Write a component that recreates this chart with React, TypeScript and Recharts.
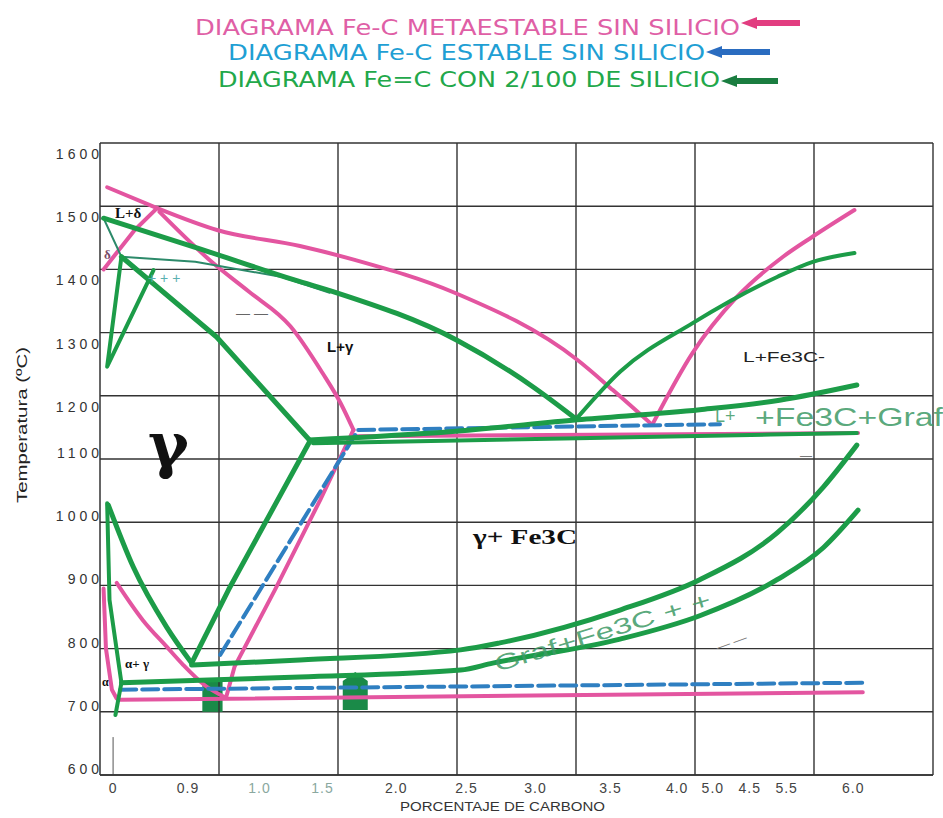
import React from 'react'
import {
  LineChart,
  Line,
  XAxis,
  YAxis,
  CartesianGrid,
  ReferenceLine,
  ReferenceArea,
} from 'recharts'

// x is measured in grid cells (the scan's carbon scale is not linear), t in ºC
const X_TICKS = [0.11, 0.74, 1.34, 1.87, 2.49, 3.08, 3.66, 4.29, 4.85, 5.15, 5.46, 5.77, 6.33]
const X_LABELS = ['0', '0.9', '1.0', '1.5', '2.0', '2.5', '3.0', '3.5', '4.0', '5.0', '4.5', '5.5', '6.0']
const Y_TICKS = [600, 700, 800, 900, 1000, 1100, 1200, 1300, 1400, 1500, 1600]
const GRID_X = [1, 2, 3, 4, 5, 6, 7]

// metaestable sin silicio (rosa)
const metaDeltaTop = [[0.06, 1530], [0.48, 1497]]
const metaDeltaLow = [[0.03, 1400], [0.29, 1462], [0.48, 1497]]
const metaLiquidusLeft = [[0.48, 1497], [0.99, 1462], [1.68, 1437], [2.14, 1415], [2.98, 1363], [4.01, 1257], [4.31, 1209], [4.64, 1154]]
const metaLiquidusRight = [[4.64, 1154], [4.98, 1268], [5.35, 1356], [5.74, 1420], [5.99, 1452], [6.34, 1494]]
const metaSolidus = [[0.5, 1491], [0.95, 1410], [1.25, 1365], [1.6, 1310], [1.87, 1236], [2.02, 1189], [2.13, 1146]]
const metaAcm = [[1.06, 723], [1.13, 771], [1.47, 893], [1.85, 1035], [2.13, 1146]]
const metaA3 = [[0.14, 904], [0.36, 845], [0.56, 803], [0.7, 774], [0.88, 742], [1.05, 723]]
const metaAlpha = [[0.03, 895], [0.05, 800], [0.1, 735], [0.14, 721]]
const metaEutectoid = [[0.17, 719], [6.41, 731]]
const metaEutectic = [[2.13, 1136], [6.37, 1141]]

// estable sin silicio (azul, discontinua)
const stableEutectoid = [[0.17, 735], [6.41, 746]]
const stableAcm = [[1.01, 790], [2.17, 1146]]
const stableEutectic = [[2.17, 1146], [5.21, 1155]]

// con 2/100 de silicio (verde)
const siLiquidusLeft = [[0.03, 1481], [0.8, 1435], [1.64, 1383], [1.99, 1363], [3.0, 1288], [3.64, 1214], [3.99, 1165]]
const siLiquidusRight = [[4.01, 1165], [4.37, 1238], [4.98, 1315], [5.69, 1388], [5.99, 1412], [6.34, 1426]]
const siSolidus = [[0.18, 1420], [0.98, 1293], [1.76, 1130]]
const siDeltaThin = [[0.03, 1481], [0.18, 1420], [0.8, 1412], [1.53, 1388], [1.93, 1363]]
const siDeltaLoop = [[0.18, 1420], [0.06, 1246], [0.45, 1399]]
const siEutecticUpper = [[1.76, 1130], [2.94, 1143], [4.01, 1162], [5.04, 1178], [5.71, 1193], [6.36, 1217]]
const siEutecticLower = [[1.79, 1125], [4.01, 1133], [6.36, 1141]]
const siAcm = [[0.77, 777], [1.08, 893], [1.76, 1127]]
const siA3 = [[0.07, 1027], [0.28, 929], [0.56, 834], [0.77, 777]]
const siLeft = [[0.06, 1030], [0.08, 877], [0.18, 746], [0.13, 695]]
const siEutectoidUpper = [[0.77, 774], [1.68, 782], [3.03, 798], [3.36, 809], [4.37, 861], [5.04, 909], [5.69, 983], [6.08, 1056], [6.36, 1122]]
const siEutectoidLower = [[0.18, 746], [1.68, 755], [3.03, 766], [3.3, 777], [4.37, 815], [5.04, 852], [5.69, 909], [6.08, 960], [6.37, 1019]]

const graphiteMarks = [
  { x1: 0.86, x2: 1.03, y1: 700, y2: 750 },
  { x1: 2.04, x2: 2.25, y1: 703, y2: 763 },
]

const PINK = '#e355a0'
const BLUE = '#2f7fc1'
const GREEN = '#1c9c48'
const TEAL = '#2c8a6a'

const pts = (a: number[][]) => a.map(([x, t]) => ({ x, t }))

type S = { d: number[][]; c: string; w: number; dash?: string; curve?: 'linear' | 'monotone' }

const series: S[] = [
  { d: metaDeltaTop, c: PINK, w: 4, curve: 'linear' },
  { d: metaDeltaLow, c: PINK, w: 4, curve: 'linear' },
  { d: metaLiquidusLeft, c: PINK, w: 4 },
  { d: metaLiquidusRight, c: PINK, w: 4 },
  { d: metaSolidus, c: PINK, w: 4 },
  { d: metaAcm, c: PINK, w: 4, curve: 'linear' },
  { d: metaA3, c: PINK, w: 4 },
  { d: metaAlpha, c: PINK, w: 4, curve: 'linear' },
  { d: metaEutectoid, c: PINK, w: 4, curve: 'linear' },
  { d: metaEutectic, c: PINK, w: 4, curve: 'linear' },
  { d: stableEutectoid, c: BLUE, w: 4, dash: '16 6', curve: 'linear' },
  { d: stableAcm, c: BLUE, w: 4, dash: '16 6', curve: 'linear' },
  { d: stableEutectic, c: BLUE, w: 4, dash: '16 6', curve: 'linear' },
  { d: siDeltaThin, c: TEAL, w: 2, curve: 'linear' },
  { d: siLiquidusLeft, c: GREEN, w: 5 },
  { d: siLiquidusRight, c: GREEN, w: 4 },
  { d: siSolidus, c: GREEN, w: 5, curve: 'linear' },
  { d: siDeltaLoop, c: GREEN, w: 4, curve: 'linear' },
  { d: siEutecticUpper, c: GREEN, w: 5 },
  { d: siEutecticLower, c: GREEN, w: 4 },
  { d: siAcm, c: GREEN, w: 5, curve: 'linear' },
  { d: siA3, c: GREEN, w: 5 },
  { d: siLeft, c: GREEN, w: 4, curve: 'linear' },
  { d: siEutectoidUpper, c: GREEN, w: 5 },
  { d: siEutectoidLower, c: GREEN, w: 5 },
]

function XTick(props: any) {
  const { x, y, payload } = props
  const i = X_TICKS.indexOf(payload.value)
  const faded = i === 2 || i === 3
  return (
    <text x={x} y={y + 10} textAnchor="middle" fontSize={14} letterSpacing={1}
      fontFamily="Liberation Sans" fill={faded ? '#8aa8a0' : '#444'}>
      {X_LABELS[i]}
    </text>
  )
}

function YTick(props: any) {
  const { x, y, payload } = props
  const up = payload.value >= 1200
  return (
    <text x={x + 11} y={y + (up ? 16 : -1)} textAnchor="end" fontSize={14} letterSpacing={4}
      fontFamily="Liberation Sans" fill="#333">
      {payload.value}
    </text>
  )
}

function MarkShape(props: any) {
  const { x, y, width, height } = props
  if (props.pointy) {
    const p = `${x},${y + height} ${x},${y + 9} ${x + width / 2},${y} ${x + width},${y + 9} ${x + width},${y + height}`
    return <polygon points={p} fill="#1a8a48" />
  }
  return <rect x={x} y={y} width={width} height={height} fill="#1a8a48" />
}

function Arrow({ tip, end, y, color }: { tip: number; end: number; y: number; color: string }) {
  const p = `${tip},${y} ${tip + 16},${y - 6} ${tip + 16},${y - 3} ${end},${y - 3} ${end},${y + 3} ${tip + 16},${y + 3} ${tip + 16},${y + 6}`
  return <polygon points={p} fill={color} />
}

export default function App() {
  return (
    <div style={{ position: 'absolute', left: 0, top: 0, width: 943, height: 818, background: '#fff' }}>
      <LineChart width={943} height={818} margin={{ top: 143, right: 10, bottom: 0, left: 0 }}>
        <CartesianGrid vertical={false} stroke="#333" strokeWidth={1.4} />
        <XAxis type="number" dataKey="x" domain={[0, 7]} ticks={X_TICKS} interval={0}
          tick={<XTick />} tickLine={false} height={43} stroke="#333" strokeWidth={1.5} allowDataOverflow />
        <YAxis type="number" dataKey="t" domain={[600, 1600]} ticks={Y_TICKS} interval={0}
          tick={<YTick />} tickLine={false} width={100} stroke="#333" strokeWidth={1.5} allowDataOverflow />
        {GRID_X.map((g) => (
          <ReferenceLine key={g} x={g} stroke="#333" strokeWidth={1.4} />
        ))}
        <ReferenceLine segment={[{ x: 0.11, y: 600 }, { x: 0.11, y: 660 }]} stroke="#555" strokeWidth={1} />
        {series.map((s, i) => (
          <Line
            key={i}
            data={pts(s.d)}
            dataKey="t"
            type={s.curve ?? 'monotone'}
            stroke={s.c}
            strokeWidth={s.w}
            strokeDasharray={s.dash}
            strokeLinecap="round"
            strokeLinejoin="round"
            dot={false}
            activeDot={false}
            isAnimationActive={false}
          />
        ))}
        {graphiteMarks.map((m, i) => (
          <ReferenceArea key={i} x1={m.x1} x2={m.x2} y1={m.y1} y2={m.y2}
            shape={(p: any) => <MarkShape {...p} pointy={i === 1} />} />
        ))}
      </LineChart>

      <svg width={943} height={818} style={{ position: 'absolute', left: 0, top: 0, pointerEvents: 'none' }}>
        <g fontFamily="DejaVu Sans" fontSize={21}>
          <text x={195} y={35} fill="#df5fa6" textLength={545} lengthAdjust="spacingAndGlyphs">DIAGRAMA Fe-C  METAESTABLE SIN SILICIO</text>
          <text x={228} y={60} fill="#1f9fd4" textLength={477} lengthAdjust="spacingAndGlyphs">DIAGRAMA Fe-C  ESTABLE SIN SILICIO</text>
          <text x={218} y={87} fill="#22a84a" textLength={502} lengthAdjust="spacingAndGlyphs">DIAGRAMA Fe=C CON 2/100 DE SILICIO</text>
        </g>
        <Arrow tip={741} end={800} y={23} color="#e23d80" />
        <Arrow tip={706} end={770} y={52} color="#2a6cc0" />
        <Arrow tip={721} end={778} y={81} color="#1a7d40" />

        <text transform="translate(27,425) rotate(-90)" textAnchor="middle" fontFamily="Liberation Sans"
          fontSize={14} fill="#222" textLength={156} lengthAdjust="spacingAndGlyphs">Temperatura (ºC)</text>
        <text x={400} y={811} fontFamily="Liberation Sans" fontSize={12} fill="#333"
          textLength={205} lengthAdjust="spacingAndGlyphs">PORCENTAJE DE CARBONO</text>

        <text x={115} y={218} fontFamily="Liberation Serif" fontWeight="bold" fontSize={15} fill="#111">L+δ</text>
        <text x={104} y={259} fontFamily="Liberation Serif" fontWeight="bold" fontSize={13} fill="#7a4a66">δ</text>
        <text x={148} y={283} fontFamily="Liberation Sans" fontSize={14} fill="#5ab0b0">+   +    +</text>
        <text x={236} y={318} fontFamily="Liberation Sans" fontSize={14} fill="#666">—   —</text>
        <text x={327} y={352} fontFamily="Liberation Sans" fontWeight="bold" fontSize={15} fill="#111">L+γ</text>
        <text x={148} y={466} fontFamily="DejaVu Serif" fontWeight="bold" fontSize={62} fill="#111">γ</text>
        <text x={473} y={544} fontFamily="Liberation Serif" fontWeight="bold" fontSize={20} fill="#111"
          textLength={104} lengthAdjust="spacingAndGlyphs">γ+ Fe3C</text>
        <text x={743} y={362} fontFamily="Liberation Sans" fontSize={14} fill="#222"
          textLength={82} lengthAdjust="spacingAndGlyphs">L+Fe3C-</text>
        <text x={715} y={422} fontFamily="Liberation Sans" fontSize={18} fill="#3d9a66" fillOpacity={0.85}>L+</text>
        <text x={755} y={426} fontFamily="Liberation Sans" fontSize={26} fill="#3d9a66" fillOpacity={0.85}
          textLength={188} lengthAdjust="spacingAndGlyphs">+Fe3C+Graf</text>
        <text transform="translate(497,672) rotate(-17)" fontFamily="Liberation Sans" fontSize={22} fill="#3d9a66"
          fillOpacity={0.85} textLength={225} lengthAdjust="spacingAndGlyphs">Graf+Fe3C  +   +</text>
        <text x={125} y={668} fontFamily="Liberation Serif" fontWeight="bold" fontSize={13} fill="#111">α+ γ</text>
        <text x={102} y={686} fontFamily="Liberation Serif" fontWeight="bold" fontSize={12} fill="#111">α</text>
        <text transform="translate(718,652) rotate(-20)" fontFamily="Liberation Sans" fontSize={14} fill="#777">—  —</text>
        <text x={800} y={460} fontFamily="Liberation Sans" fontSize={12} fill="#777">—</text>
      </svg>
    </div>
  )
}
